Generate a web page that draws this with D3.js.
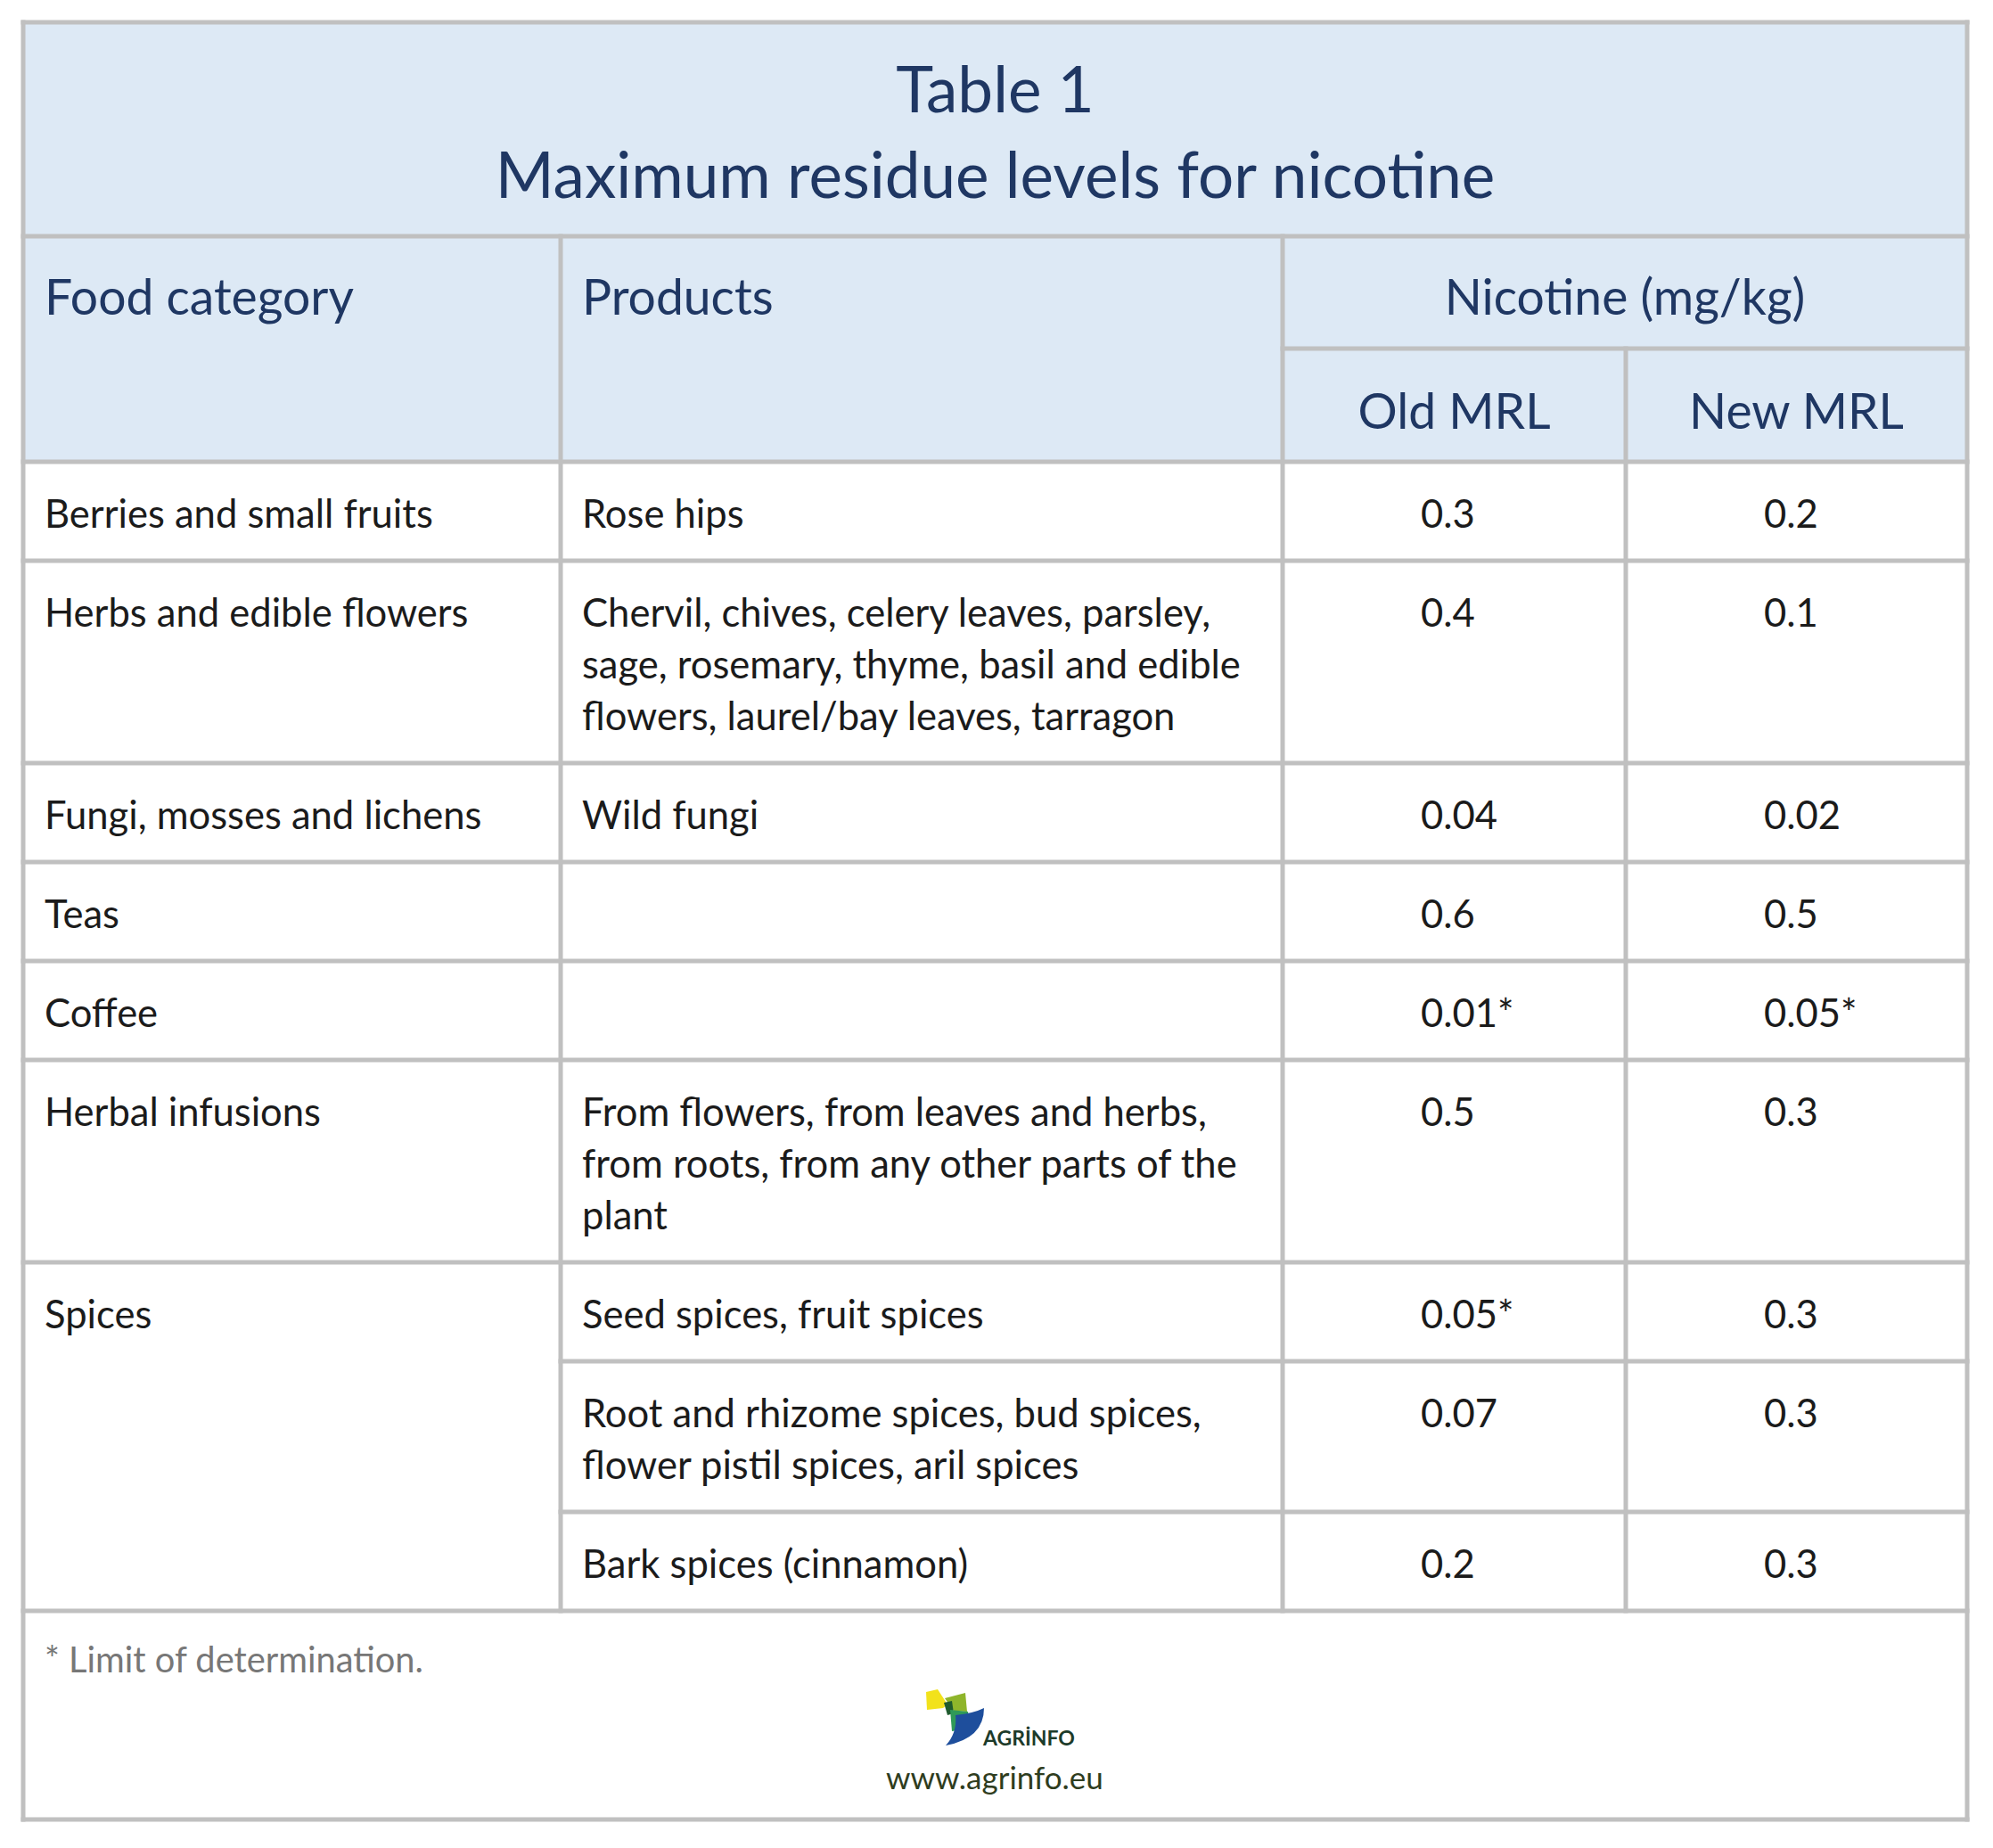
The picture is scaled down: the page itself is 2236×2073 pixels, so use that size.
<!DOCTYPE html>
<html lang="en">
<head>
<meta charset="UTF-8">
<title>Maximum residue levels for nicotine</title>
<style>
  body { margin: 0; background: #fff; }
  text { font-family: Lato, "Noto Sans", sans-serif; }
</style>
</head>
<body>
<svg id="container" width="2236" height="2073"></svg>

<script src="https://cdn.jsdelivr.net/npm/d3@7"></script>
<script>
// ---- data ----
let titleLines = ["Table 1", "Maximum residue levels for nicotine"]
let headers = ["Food category", "Products", "Nicotine (mg/kg)"]
let subHeaders = ["Old MRL", "New MRL"]
let categories = ["Berries and small fruits", "Herbs and edible flowers",
    "Fungi, mosses and lichens", "Teas", "Coffee", "Herbal infusions", "Spices"]
// one entry per table row: which category it belongs to
let rowCategory = [0, 1, 2, 3, 4, 5, 6, 6, 6]
let products = [
    ["Rose hips"],
    ["Chervil, chives, celery leaves, parsley,", "sage, rosemary, thyme, basil and edible",
     "flowers, laurel/bay leaves, tarragon"],
    ["Wild fungi"],
    [],
    [],
    ["From flowers, from leaves and herbs,", "from roots, from any other parts of the", "plant"],
    ["Seed spices, fruit spices"],
    ["Root and rhizome spices, bud spices,", "flower pistil spices, aril spices"],
    ["Bark spices (cinnamon)"]
]
let oldMRL = [0.3, 0.4, 0.04, 0.6, 0.01, 0.5, 0.05, 0.07, 0.2]
let newMRL = [0.2, 0.1, 0.02, 0.5, 0.05, 0.3, 0.3, 0.3, 0.3]
let oldLOD = [false, false, false, false, true, false, true, false, false]
let newLOD = [false, false, false, false, true, false, false, false, false]
let footnote = "* Limit of determination."
let website = "www.agrinfo.eu"

// ---- layout ----
let svg = d3.select("#container")
let border = "#c0c0c0"
let headFill = "#dde9f5"
let navy = "#1f3763"
let ink = "#1b1b1b"

// column edges
let colNames = ["cat", "prod", "old", "new", "end"]
let x = d3.scaleOrdinal().domain(colNames).range([26, 629, 1439, 1824, 2207])

let tableTop = 25, titleBottom = 265, subTop = 391, headBottom = 518
let rowH = 111, lineH = 58
let heights = products.map(p => rowH + (Math.max(p.length, 1) - 1) * lineH)
let yEdges = [headBottom].concat(Array.from(d3.cumsum(heights), v => v + headBottom))
let tableBottom = yEdges[yEdges.length - 1]
let frameBottom = 2041

// fit a font size so that a reference string gets a given width
function fitSize(str, width, weight) {
    let t = svg.append("text").attr("font-size", 100).attr("font-weight", weight || 400).text(str)
    let w = t.node().getComputedTextLength()
    t.remove()
    return 100 * width / w
}
let titleSize = fitSize(titleLines[1], 1122)
let headSize = fitSize(headers[0], 347)
let bodySize = fitSize(categories[0], 436)
let footSize = fitSize(footnote, 425)

svg.append("rect").attr("width", 2236).attr("height", 2073).attr("fill", "#fff")

// header background
svg.append("rect").attr("x", x("cat")).attr("y", tableTop)
    .attr("width", x("end") - x("cat")).attr("height", headBottom - tableTop)
    .attr("fill", headFill)

// ---- grid lines ----
let lines = []
let hl = (y, x1, x2) => lines.push([x1, y, x2, y])
let vl = (xx, y1, y2) => lines.push([xx, y1, xx, y2])
hl(tableTop, x("cat"), x("end"))
hl(titleBottom, x("cat"), x("end"))
hl(subTop, x("old"), x("end"))
hl(headBottom, x("cat"), x("end"))
yEdges.slice(1).forEach((y, i) => {
    let next = rowCategory[i + 1]
    let start = (next === rowCategory[i]) ? x("prod") : x("cat")
    hl(y, start, x("end"))
})
hl(frameBottom, x("cat"), x("end"))
vl(x("cat"), tableTop, frameBottom)
vl(x("end"), tableTop, frameBottom)
vl(x("prod"), titleBottom, tableBottom)
vl(x("old"), titleBottom, tableBottom)
vl(x("new"), subTop, tableBottom)

svg.append("g").selectAll("line").data(lines).enter().append("line")
    .attr("x1", d => d[0]).attr("y1", d => d[1])
    .attr("x2", d => d[2]).attr("y2", d => d[3])
    .attr("stroke", border).attr("stroke-width", 5)
    .attr("stroke-linecap", "square")

// ---- title ----
let midX = (x("cat") + x("end")) / 2
svg.selectAll(".title").data(titleLines).enter().append("text")
    .attr("class", "title")
    .attr("x", midX).attr("y", (d, i) => 126 + i * 96)
    .attr("text-anchor", "middle").attr("fill", navy)
    .attr("font-size", titleSize).text(d => d)

// ---- column headers ----
let padX = 24
svg.append("text").attr("x", x("cat") + padX).attr("y", 353)
    .attr("fill", navy).attr("font-size", headSize).text(headers[0])
svg.append("text").attr("x", x("prod") + padX).attr("y", 353)
    .attr("fill", navy).attr("font-size", headSize).text(headers[1])
svg.append("text").attr("x", (x("old") + x("end")) / 2).attr("y", 353)
    .attr("text-anchor", "middle").attr("fill", navy).attr("font-size", headSize).text(headers[2])
svg.selectAll(".sub").data(subHeaders).enter().append("text")
    .attr("class", "sub")
    .attr("x", (d, i) => i === 0 ? (x("old") + x("new")) / 2 : (x("new") + x("end")) / 2)
    .attr("y", 481).attr("text-anchor", "middle")
    .attr("fill", navy).attr("font-size", headSize).text(d => d)

// ---- body rows ----
let base = 74
let rows = svg.append("g").selectAll("g").data(products).enter().append("g")
    .attr("transform", (d, i) => `translate(0,${yEdges[i]})`)

rows.each(function (d, i) {
    let g = d3.select(this)
    // category text only on first row of each category
    if (i === 0 || rowCategory[i] !== rowCategory[i - 1]) {
        g.append("text").attr("x", x("cat") + padX).attr("y", base)
            .attr("fill", ink).attr("font-size", bodySize)
            .text(categories[rowCategory[i]])
    }
    g.selectAll(".p").data(d).enter().append("text")
        .attr("x", x("prod") + padX).attr("y", (s, j) => base + j * lineH)
        .attr("fill", ink).attr("font-size", bodySize).text(s => s)
    g.append("text").attr("x", x("old") + 155).attr("y", base)
        .attr("fill", ink).attr("font-size", bodySize)
        .text(oldMRL[i] + (oldLOD[i] ? "*" : ""))
    g.append("text").attr("x", x("new") + 155).attr("y", base)
        .attr("fill", ink).attr("font-size", bodySize)
        .text(newMRL[i] + (newLOD[i] ? "*" : ""))
})

// ---- footnote ----
svg.append("text").attr("x", x("cat") + padX).attr("y", 1876)
    .attr("fill", "#777").attr("font-size", footSize).text(footnote)

// ---- logo ----
let logo = svg.append("g").attr("transform", "translate(960,1840)")
logo.append("path").attr("d", "M79,58 L92,55 L103,72 L98,76 L80,78 Z").attr("fill", "#f2e21b")
logo.append("path").attr("d", "M100,65 L123,59 L125,80 L110,79 Z").attr("fill", "#8fb52b")
logo.append("path").attr("d", "M99,70 L108,68 L110,82 L103,84 Z").attr("fill", "#1f5b2e")
logo.append("path").attr("d", "M106,78 L126,80 L128,99 L108,102 Z").attr("fill", "#2f9a58")
logo.append("path").attr("d", "M112,84 Q132,82 144,76 Q144,110 101,118 Q114,104 112,84 Z").attr("fill", "#1e4e9c")
logo.append("text").attr("x", 143).attr("y", 118)
    .attr("font-family", "'DejaVu Sans Condensed', sans-serif")
    .attr("font-weight", 700).attr("font-size", 23).attr("fill", "#1d3b2a")
    .text("AGRİNFO")
svg.append("text").attr("x", 1116).attr("y", 2007).attr("text-anchor", "middle")
    .attr("fill", "#2f3d1e").attr("font-size", 35).text(website)
</script>
</body>
</html>
